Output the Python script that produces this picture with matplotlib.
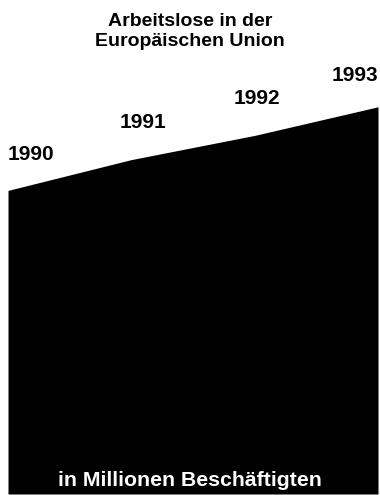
import matplotlib
matplotlib.use("Agg")
import matplotlib.pyplot as plt

# Arbeitslose in der EU (Mio.), aus der Grafik geschaetzt
years = [1990, 1991, 1992, 1993]
values = [13.8, 15.2, 16.3, 17.6]
labels = ["1990", "1991", "1992", "1993"]

plt.rcParams['font.family'] = ['Liberation Sans', 'DejaVu Sans']

W, H = 380, 495
fig = plt.figure(figsize=(W/100, H/100), dpi=100)
fig.patch.set_facecolor('white')

ax = fig.add_axes([8/W, 1/H, 370/W, 434/H])
ax.fill_between(years, values, 0, color='black', linewidth=0)
ax.set_xlim(1990, 1993)
ax.set_ylim(0, 434/22)
ax.axis('off')

# jahreszahlen ueber der flaeche
offs = [(0, 36, 'left'), (12, 37, 'center'), (2, 37, 'center'), (0, 31, 'right')]
for x, y, lab, (dx, dy, ha) in zip(years, values, labels, offs):
	ax.annotate(lab, (x, y), xytext=(dx, dy), textcoords='offset pixels',
		ha=ha, va='center', fontsize=15, fontweight='bold', color='black',
		annotation_clip=False)

fig.text(0.5, 1 - 26/H, "Arbeitslose in der", ha='center', va='baseline',
	fontsize=14, fontweight='bold')
fig.text(0.5, 1 - 46/H, "Europäischen Union", ha='center', va='baseline',
	fontsize=14, fontweight='bold')

fig.text(0.5, 1 - 481/H, "in Millionen Beschäftigten", ha='center', va='center',
	fontsize=15.3, fontweight='bold', color='white')

fig.savefig("out.png", dpi=100, facecolor='white')
